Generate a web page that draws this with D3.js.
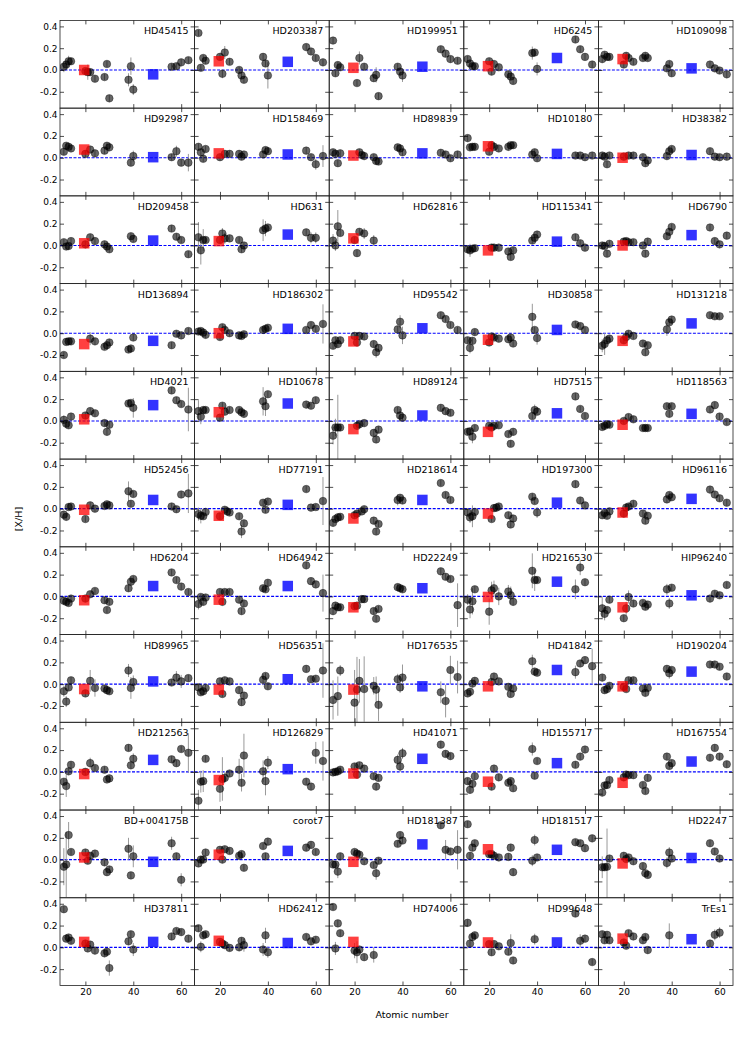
<!DOCTYPE html>
<html><head><meta charset="utf-8">
<script src="https://cdn.jsdelivr.net/npm/d3@7"></script>
<style>body{margin:0;background:#fff} svg{display:block} text{font-family:"DejaVu Sans",sans-serif}</style>
</head><body><svg id="c" width="747" height="1038"></svg>
<script>
const _ = null;
const stars = ["HD45415","HD203387","HD199951","HD6245","HD109098",
"HD92987","HD158469","HD89839","HD10180","HD38382",
"HD209458","HD631","HD62816","HD115341","HD6790",
"HD136894","HD186302","HD95542","HD30858","HD131218",
"HD4021","HD10678","HD89124","HD7515","HD118563",
"HD52456","HD77191","HD218614","HD197300","HD96116",
"HD6204","HD64942","HD22249","HD216530","HIP96240",
"HD89965","HD56351","HD176535","HD41842","HD190204",
"HD212563","HD126829","HD41071","HD155717","HD167554",
"BD+004175B","corot7","HD181387","HD181517","HD2247",
"HD37811","HD62412","HD74006","HD99648","TrEs1"];
const elements = ["Na","Mg","Al","Si","Ca","Sc","Ti","V","Cr","Ni","Cu","Zn","Sr","Y","Zr","Ba","Ce","Nd","Eu"];
const elementZ = [11,12,13,14,20,21,22,23,24,28,29,30,38,39,40,56,58,60,63];
const abundances = [
[.03,.05,.08,.08,-.01,-.02,-.02,_,-.08,-.065,.055,-.26,-.09,.035,-.18,.03,.035,.07,.09],
[.34,.02,.11,.085,.12,-.035,.16,_,.075,0,-.05,-.09,.12,.06,-.05,.21,.17,.11,.07],
[.27,-.03,.045,.025,_,-.12,.11,_,.03,-.075,-.045,-.24,.03,-.015,-.05,.19,.15,.1,.085],
[.1,.06,.035,.035,.08,-.015,.055,_,.025,-.04,-.06,-.1,.155,.16,.01,.28,.19,.12,.05],
[.1,.14,.12,.12,.05,.13,.11,_,.075,.11,.13,.11,.015,.055,-.03,.05,.015,-.005,-.04],
[.055,.11,.1,.085,.035,_,.075,_,.04,.065,.11,.095,_,-.045,.015,.005,.06,-.045,-.045],
[.1,.05,-.01,.08,.005,_,.035,_,.035,.035,.01,.03,.03,.07,.06,.065,.005,-.06,.015],
[.05,.035,-.05,.04,_,_,.05,.025,.015,.005,-.03,-.035,.095,.085,.05,.045,.03,-.005,.03],
[.18,.095,.1,.1,.055,.115,.1,_,.085,.1,.115,.115,.03,.05,-.005,.02,.02,.005,.02],
[.02,.01,-.06,.02,.01,_,.02,_,.02,.005,-.05,-.025,.015,.06,.08,.06,.01,.005,.01],
[.03,-.01,-.005,.04,.01,_,.075,_,.04,.01,-.01,-.035,_,.085,.06,.155,.08,.05,-.08],
[.075,-.045,.05,.05,.05,.11,.065,_,.065,.05,-.035,0,.14,.155,.165,.12,.07,.07,_],
[.045,0,.175,.115,.05,-.07,.125,_,.11,.045,_,_,_,_,_,_,_,_,_],
[-.035,-.045,-.03,-.025,_,-.02,-.02,_,-.02,-.055,-.105,-.045,.045,.07,.1,.075,.02,-.02,_],
[0,-.005,-.075,.015,.035,.04,.03,_,.03,0,-.075,.035,.085,.125,.17,.165,.04,.01,.09],
[-.2,-.08,-.075,-.075,_,_,-.05,_,-.075,-.125,-.11,-.085,-.15,-.14,-.04,-.11,-.005,-.02,.02],
[.015,.02,.005,-.015,-.035,.055,.03,_,0,-.02,-.025,-.01,.03,.04,.05,.03,.075,.04,.085],
[-.115,-.065,-.1,-.065,-.025,-.085,-.025,_,-.03,-.1,-.175,-.135,.035,.105,-.02,.165,.13,.075,.03],
[-.065,-.135,-.07,.01,-.085,-.03,-.04,_,-.05,-.055,-.04,-.095,.15,.03,-.045,.08,.065,.03,_],
[-.115,-.1,-.065,-.05,-.065,-.035,-.005,_,-.025,-.095,-.175,-.11,.035,.1,.125,.165,.155,.155,_],
[.01,-.025,-.04,.04,.05,_,.09,_,.07,-.02,-.1,-.035,.16,.165,.12,.28,.19,.155,.105],
[.09,.04,.1,.1,.03,.14,.085,_,.1,.1,.08,.065,.18,.135,.245,.15,.14,.19,_],
[-.135,-.06,-.06,-.06,_,-.045,-.03,_,-.02,-.11,-.17,-.08,.1,.05,.03,.12,.09,.075,_],
[-.1,-.095,-.145,-.065,-.045,-.06,-.045,_,-.04,-.12,-.21,-.1,.045,.1,.085,.225,.11,.045,_],
[-.055,-.045,-.03,-.035,0,_,.035,_,.015,-.065,-.065,-.065,.135,.065,.135,.105,.145,.04,-.01],
[-.055,-.075,.015,.02,-.095,_,.03,_,0,.025,.04,.03,.16,.045,.135,.02,-.005,.13,.14],
[-.05,-.065,-.07,-.03,-.07,_,-.01,-.025,-.035,-.07,-.21,-.135,.055,-.01,.065,.18,.01,.015,.07],
[-.13,-.095,-.08,-.075,-.06,-.045,_,-.025,-.005,-.11,-.21,-.14,.08,.1,.075,.235,.125,.08,_],
[-.035,-.08,-.07,-.03,_,-.095,.005,.01,.02,-.06,-.145,-.09,.11,.07,-.035,.225,.075,.03,_],
[-.06,-.04,-.065,-.025,-.045,.01,.02,_,.045,-.045,-.11,-.065,.085,.125,.105,.175,.13,.095,.055],
[-.04,-.05,-.06,-.02,-.02,_,.02,_,.05,-.035,-.125,-.05,.075,.135,.16,.22,.15,.09,.04],
[-.07,-.005,-.05,-.01,.04,-.05,.04,_,.04,-.03,-.135,-.065,.075,.065,.125,.285,.14,.11,.03],
[-.135,-.085,-.1,-.1,-.09,-.085,_,-.025,-.025,-.135,-.205,-.115,.085,.075,.065,.23,.18,.16,-.08],
[-.03,-.12,-.045,.065,-.14,.055,.075,_,0,.045,.01,-.05,.235,.15,.15,.065,.265,.13,_],
[-.11,-.16,-.125,-.03,-.2,-.11,-.005,_,-.065,-.06,-.095,-.075,.065,-.065,.08,-.02,.025,.01,.105],
[-.065,-.16,-.03,.035,-.085,_,.03,_,-.035,-.04,-.055,-.065,.125,-.035,.02,.015,.06,.025,.055],
[-.03,-.075,-.065,-.035,.025,-.09,.035,_,.025,-.055,-.165,-.105,.04,.075,-.02,.14,.045,.05,.125],
[-.145,_,-.11,.125,-.17,-.05,.03,_,-.045,-.015,-.05,-.19,.045,-.03,.06,-.075,-.155,.13,.065],
[-.085,-.07,.005,.03,_,.02,.07,_,.025,-.025,-.09,-.04,.21,.115,.105,.11,.19,.22,.165],
[.06,-.055,-.045,-.015,-.025,-.045,.035,_,.035,-.04,-.08,-.035,.14,.1,.13,.18,.18,.16,.07],
[-.09,-.13,.005,.065,0,_,.08,_,.035,.02,-.07,-.06,.22,.06,.12,.115,.08,.21,.175],
[-.265,-.09,-.085,.12,-.155,-.065,-.055,_,-.015,.02,-.1,.15,.005,-.085,.085,-.09,-.135,.175,.1],
[-.005,0,.005,.02,.05,-.025,.06,_,.03,-.04,-.135,-.055,.11,.05,.17,.25,.165,.145,_],
[-.085,-.165,-.11,-.04,_,-.135,.03,_,-.05,-.1,-.085,-.15,.21,-.035,.1,.065,.14,.205,_],
[-.19,-.125,-.12,-.075,-.05,-.025,-.03,_,-.03,-.12,-.175,-.055,.14,.055,.08,.13,.22,.14,.07],
[-.065,-.045,.225,.07,.065,-.01,.035,_,.055,-.025,-.115,-.09,.1,-.145,.03,.15,.03,-.185,_],
[-.035,0,0,.065,.09,0,.095,_,.08,.035,.05,-.075,.125,.03,.165,.11,.135,.07,_],
[-.045,-.045,-.11,.03,.07,.055,.045,_,-.015,-.05,-.125,-.01,.145,.225,.175,.315,.09,.075,.09],
[.325,.035,.11,.15,.05,.05,.035,_,.02,.025,.11,-.115,-.01,.18,.02,.16,.15,.105,.195],
[-.07,-.07,-.065,.01,.035,.005,.02,_,-.015,-.06,-.125,-.14,-.03,.065,.01,.15,.075,.01,_],
[.35,.08,.09,.06,.035,-.01,.025,_,-.03,-.055,-.04,-.19,.055,.12,-.02,.1,.15,.14,.08],
[.175,.005,.11,.12,.05,.035,.02,_,-.005,0,.06,.02,-.02,.11,-.045,.095,.055,.07,_],
[.37,-.01,.22,.13,-.03,-.045,-.02,_,-.09,-.07,_,_,_,_,_,_,_,_,_],
[.225,.035,.095,.11,.03,-.045,.03,_,.01,-.04,.04,-.12,_,.075,_,.31,.06,.08,-.135],
[.12,.065,.115,.065,.045,.015,.13,_,.1,.065,.095,-.025,_,.11,_,.035,.115,.135,_]
];
const redValues = [0,.08,.02,.035,.1, .075,.04,.02,.105,0, .02,.04,.065,-.045,0,
 -.1,0,-.075,-.06,-.07, .015,.08,-.075,-.1,-.035, -.01,-.065,-.09,-.045,-.035,
 -.035,-.03,-.1,-.005,-.1, -.045,-.05,-.05,-.02,-.02, -.02,-.075,-.015,-.09,-.1,
 .02,.045,-.02,.095,-.035, .05,.06,.05,.045,.08];
const blueValues = [-.04,.075,.03,.11,.015, .005,.03,.04,.035,.025, .045,.1,_,.035,.095,
 -.07,.04,.045,.03,.09, .145,.16,.05,.07,.065, .08,.035,.08,.055,.09,
 .095,.095,.075,.135,.01, .025,.045,-.02,.13,.115, .11,.025,.12,.08,.095,
 -.02,.08,.14,.09,.015, .05,.04,_,.045,.075];
const defaultError = 0.03;
const errorOverrides = [
[["Na",.05],["Al",.05],["Sc",.07],["Sr",.06],["Y",.08],["Zr",.05]],
[["Ti",.06],["Zr",.12],["Sc",.04]],
[["Ti",.06],["Cu",.07],["Zr",.06]],
[["Sr",.06],["Zr",.06]],
[],
[["Zr",.05],["Ce",.05],["Eu",.08]],
[["Eu",.1],["Nd",.05]],
[],[],[],[],
[["Na",.14],["Mg",.13],["Al",.1],["Sr",.1],["Y",.07],["Sc",.05],["Ti",.05],["Ce",.05],["Nd",.05]],
[["Na",.06],["Mg",.05],["Al",.15],["Cr",.05],["Ni",.05]],
[["Mg",.06]],
[],
[["Ti",.06]],
[["Eu",.18]],
[["Cu",.05],["Zr",.08],["Y",.06]],
[["Sr",.12],["Mg",.05],["Zr",.06]],
[["Na",.06],["Mg",.1],["Sr",.06]],
[["Eu",.2],["Zr",.09],["Na",.04]],
[["Na",.1],["Mg",.07],["Sr",.13],["Y",.09]],
[["Al",.3],["Mg",.08],["Na",.08],["Y",.06]],
[["Al",.06],["Y",.05]],
[],
[["Eu",.18],["Sr",.09]],
[["Eu",.22],["Na",.06],["Mg",.07],["Cu",.06]],
[["Sr",.05]],
[["Al",.1],["Mg",.05],["Zr",.05]],
[],[],
[["Eu",.17],["Na",.05]],
[["Eu",.2]],
[["Na",.05],["Mg",.08],["Al",.12],["Ca",.12],["Sc",.08],["Ti",.07],["Cr",.08],["Ni",.06],["Cu",.08],["Sr",.16],["Y",.1],["Ba",.09],["Ce",.07]],
[["Na",.1],["Mg",.06],["Sc",.06],["Ti",.06],["Sr",.05],["Y",.05]],
[["Sr",.06],["Y",.1],["Zr",.06],["Ti",.1],["Ce",.06],["Nd",.06],["Cr",.08],["Mg",.05],["Na",.05]],
[["Eu",.25],["Sr",.05]],
[["Na",.18],["Al",.18],["Si",.05],["Ca",.3],["Sc",.3],["Ti",.2],["Cr",.3],["Ni",.08],["Cu",.12],["Zn",.15],["Sr",.05],["Y",.05],["Zr",.12],["Ba",.1],["Ce",.15],["Nd",.13],["Eu",.15]],
[["Sr",.06],["Ba",.06],["Eu",.16]],
[["Y",.05]],
[["Mg",.1],["Eu",.18],["Zr",.05],["Ti",.05]],
[["Na",.1],["Mg",.1],["Al",.1],["Ca",.12],["Sc",.2],["Ti",.05],["Ni",.1],["Cu",.08],["Zn",.2],["Sr",.1],["Y",.13],["Zr",.06],["Nd",.1],["Eu",.18]],
[["Sr",.05],["Y",.05],["Zr",.05]],
[["Sr",.06]],
[],
[["Na",.17],["Mg",.3],["Al",.12],["Sr",.1],["Zr",.1],["Ba",.06],["Nd",.06]],
[],
[["Al",.06],["Cu",.06],["Eu",.18],["Ce",.09]],
[["Sr",.05],["Y",.05]],
[["Na",.1],["Al",.35],["Y",.05],["Sr",.05]],
[["Zn",.07],["Zr",.06]],
[["Sr",.06],["Y",.07],["Zr",.05],["Zn",.06],["Mg",.05]],
[["Sc",.1],["Ca",.07],["Ni",.07],["Mg",.06]],
[["Y",.05],["Cu",.08],["Ce",.06]],
[["Y",.11],["Ce",.05],["Nd",.05]]
];
const redZ = 19.5, blueZ = 48.3;
const xDomain = [9.4, 65.6], yDomain = [-0.35, 0.455];
const xTicks = [20, 40, 60];
const yTicks = [-0.2, 0.0, 0.2, 0.4];

const svg = d3.select("#c");
const L = 60, R = 733, T = 20.4, B = 985.5, NC = 5, NR = 11;
const pw = (R - L) / NC, ph = (B - T) / NR;
const x = d3.scaleLinear().domain(xDomain).range([0, pw]);
const y = d3.scaleLinear().domain(yDomain).range([ph, 0]);
svg.append("defs").append("clipPath").attr("id", "pc")
  .append("rect").attr("width", pw).attr("height", ph);

function errOf(i, k) {
  const o = errorOverrides[i].find(d => d[0] === elements[k]);
  return o ? o[1] : defaultError;
}

stars.forEach((name, i) => {
  const col = i % NC, row = Math.floor(i / NC);
  const g = svg.append("g").attr("transform", `translate(${L + col * pw},${T + row * ph})`);
  const plot = g.append("g").attr("clip-path", "url(#pc)");
  plot.append("line").attr("x1", 0).attr("x2", pw).attr("y1", y(0)).attr("y2", y(0))
    .attr("stroke", "#0000ff").attr("stroke-width", 1.1).attr("stroke-dasharray", "3,1.5");
  const pts = elementZ.map((z, k) => ({ z, v: abundances[i][k], e: errOf(i, k) })).filter(d => d.v !== null);
  plot.selectAll(".eb").data(pts).join("line").attr("class", "eb")
    .attr("x1", d => x(d.z)).attr("x2", d => x(d.z))
    .attr("y1", d => y(d.v - d.e)).attr("y2", d => y(d.v + d.e))
    .attr("stroke", "#999").attr("stroke-width", 1);
  plot.selectAll(".pt").data(pts).join("circle").attr("class", "pt")
    .attr("cx", d => x(d.z)).attr("cy", d => y(d.v)).attr("r", 3.8)
    .attr("fill", "#000").attr("fill-opacity", 0.6)
    .attr("stroke", "#000").attr("stroke-opacity", 0.6).attr("stroke-width", 0.6);
  const s = 10.5;
  if (redValues[i] !== null)
    plot.append("rect").attr("x", x(redZ) - s / 2).attr("y", y(redValues[i]) - s / 2)
      .attr("width", s).attr("height", s).attr("fill", "#ff0000").attr("fill-opacity", 0.75);
  if (blueValues[i] !== null)
    plot.append("rect").attr("x", x(blueZ) - s / 2).attr("y", y(blueValues[i]) - s / 2)
      .attr("width", s).attr("height", s).attr("fill", "#0000ff").attr("fill-opacity", 0.8);

  const isBottom = row === NR - 1, isLeft = col === 0;
  const fmtY = d => d3.format(".1f")(d).replace("−", "-");
  const axB = g.append("g").attr("transform", `translate(0,${ph})`)
    .call(d3.axisBottom(x).tickValues(xTicks).tickSizeInner(-4).tickSizeOuter(0).tickPadding(3)
      .tickFormat(isBottom ? d3.format("d") : () => ""));
  const axT = g.append("g").call(d3.axisTop(x).tickValues(xTicks).tickSizeInner(-4).tickSizeOuter(0).tickFormat(() => ""));
  const axL = g.append("g").call(d3.axisLeft(y).tickValues(yTicks).tickSizeInner(-4).tickSizeOuter(0).tickPadding(2.5)
      .tickFormat(isLeft ? fmtY : () => ""));
  const axR = g.append("g").attr("transform", `translate(${pw},0)`)
    .call(d3.axisRight(y).tickValues(yTicks).tickSizeInner(-4).tickSizeOuter(0).tickFormat(() => ""));
  [axB, axT, axL, axR].forEach(a => {
    a.select(".domain").remove();
    a.selectAll("line").attr("stroke", "#000").attr("stroke-width", 0.7);
    a.selectAll("text").attr("font-size", 9).attr("fill", "#000").attr("font-family", "DejaVu Sans");
  });
  g.append("rect").attr("width", pw).attr("height", ph).attr("fill", "none")
    .attr("stroke", "#222").attr("stroke-width", 0.8);
  g.append("text").attr("x", pw - 6).attr("y", 14).attr("text-anchor", "end")
    .attr("font-size", 9.5).attr("fill", "#000").text(name);
});

svg.append("text").attr("x", 412).attr("y", 1018).attr("text-anchor", "middle")
  .attr("font-size", 9.5).text("Atomic number");
svg.append("text").attr("transform", `translate(22,519) rotate(-90)`)
  .attr("text-anchor", "middle").attr("font-size", 9.5).text("[X/H]");
</script></body></html>
